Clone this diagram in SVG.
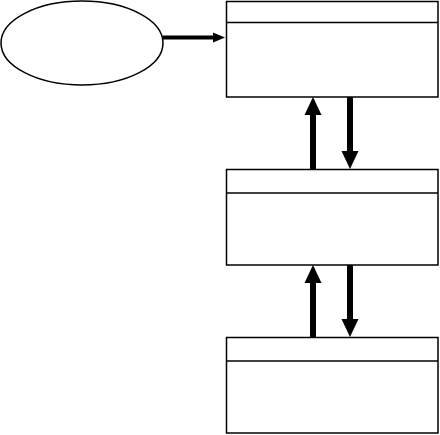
<svg xmlns="http://www.w3.org/2000/svg" width="440" height="435" viewBox="0 0 440 435">
<style>
.n{fill:#fff;stroke:#000;stroke-width:1.5}
.h{stroke:#000;stroke-width:1.5}
.c{stroke:#000;fill:none}
</style>
<rect width="440" height="435" fill="#fff"/>
<g id="ellipse"><ellipse class="n" cx="82" cy="43" rx="81" ry="42"/></g>
<g id="box1"><rect class="n" x="226.5" y="1.5" width="211.5" height="95.5"/><line class="h" x1="226.5" y1="22.5" x2="438" y2="22.5"/></g>
<g id="box2"><rect class="n" x="226.5" y="169.5" width="211.5" height="95.5"/><line class="h" x1="226.5" y1="193" x2="438" y2="193"/></g>
<g id="box3"><rect class="n" x="226.5" y="337.5" width="211.5" height="95.5"/><line class="h" x1="226.5" y1="361" x2="438" y2="361"/></g>
<g id="connectors">
<line class="c" x1="163" y1="37.5" x2="214" y2="37.5" stroke-width="4"/>
<polygon points="213,32.5 225,37.5 213,42.5"/>
<line class="c" x1="313" y1="169" x2="313" y2="114" stroke-width="6"/>
<polygon points="304.5,115 313,97 321.5,115"/>
<line class="c" x1="350" y1="97" x2="350" y2="152" stroke-width="6"/>
<polygon points="341.5,151 350,169 358.5,151"/>
<line class="c" x1="313" y1="337" x2="313" y2="282" stroke-width="6"/>
<polygon points="304.5,283 313,265 321.5,283"/>
<line class="c" x1="350" y1="265" x2="350" y2="320" stroke-width="6"/>
<polygon points="341.5,319 350,337 358.5,319"/>
</g>
</svg>
